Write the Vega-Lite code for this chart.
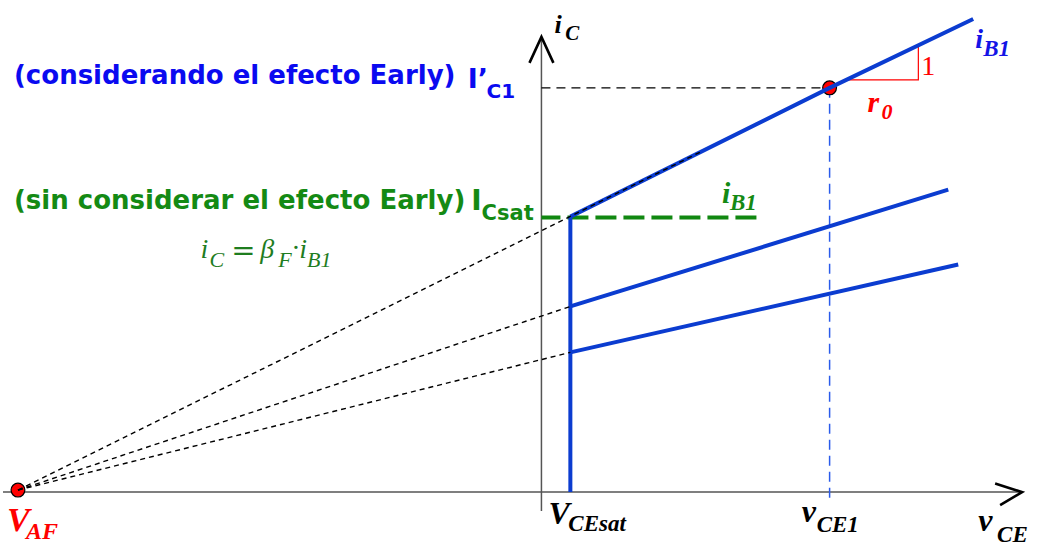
{
  "$schema": "https://vega.github.io/schema/vega-lite/v6.json",
  "width": 1039,
  "height": 547,
  "autosize": {"type": "fit", "contains": "padding"},
  "padding": 0,
  "background": "white",
  "config": {"view": {"stroke": null}},
  "encoding": {
    "x": {"field": "x", "type": "quantitative", "scale": {"domain": [-54, 49.9], "nice": false, "zero": false}, "axis": null},
    "y": {"field": "y", "type": "quantitative", "scale": {"domain": [-5.4, 49.3], "nice": false, "zero": false}, "axis": null}
  },
  "layer": [
    {
      "description": "v_CE and i_C axes",
      "data": {"values": [
        {"s": "x", "k": 0, "x": -54, "y": 0}, {"s": "x", "k": 1, "x": 48.0, "y": 0},
        {"s": "y", "k": 0, "x": 0, "y": -1.9}, {"s": "y", "k": 1, "x": 0, "y": 45.4}
      ]},
      "mark": {"type": "line", "color": "#555555", "strokeWidth": 1.5},
      "encoding": {"detail": {"field": "s"}, "order": {"field": "k"}}
    },
    {
      "description": "axis arrowheads",
      "data": {"values": [
        {"s": "x", "k": 0, "x": 45.5, "y": 0.85}, {"s": "x", "k": 1, "x": 48.2, "y": 0}, {"s": "x", "k": 2, "x": 46.0, "y": -1.3},
        {"s": "y", "k": 0, "x": -1.2, "y": 43.0}, {"s": "y", "k": 1, "x": 0, "y": 45.6}, {"s": "y", "k": 2, "x": 1.2, "y": 43.0}
      ]},
      "mark": {"type": "line", "color": "#000000", "strokeWidth": 2.6, "strokeJoin": "miter"},
      "encoding": {"detail": {"field": "s"}, "order": {"field": "k"}}
    },
    {
      "description": "operating point I'C1 projections",
      "data": {"values": [
        {"s": "h", "k": 0, "x": 0, "y": 40.5}, {"s": "h", "k": 1, "x": 28.9, "y": 40.5}
      ]},
      "mark": {"type": "line", "color": "#000000", "strokeWidth": 1.3, "strokeDash": [9, 6]},
      "encoding": {"detail": {"field": "s"}, "order": {"field": "k"}}
    },
    {
      "data": {"values": [
        {"s": "v", "k": 0, "x": 28.9, "y": 40.5}, {"s": "v", "k": 1, "x": 28.9, "y": -1.0}
      ]},
      "mark": {"type": "line", "color": "#2a5bea", "strokeWidth": 1.5, "strokeDash": [10, 6]},
      "encoding": {"detail": {"field": "s"}, "order": {"field": "k"}}
    },
    {
      "description": "I_Csat level without the Early effect",
      "data": {"values": [
        {"s": "g", "k": 0, "x": 0, "y": 27.5}, {"s": "g", "k": 1, "x": 21.8, "y": 27.5}
      ]},
      "mark": {"type": "line", "color": "#118811", "strokeWidth": 4, "strokeDash": [21, 7], "strokeDashOffset": 2},
      "encoding": {"detail": {"field": "s"}, "order": {"field": "k"}}
    },
    {
      "description": "slope triangle for r0",
      "data": {"values": [
        {"s": "t", "k": 0, "x": 30.6, "y": 41.3}, {"s": "t", "k": 1, "x": 37.8, "y": 41.3}, {"s": "t", "k": 2, "x": 37.8, "y": 44.6}
      ]},
      "mark": {"type": "line", "color": "#ff0000", "strokeWidth": 1.2, "strokeJoin": "miter"},
      "encoding": {"detail": {"field": "s"}, "order": {"field": "k"}}
    },
    {
      "description": "V_AF and the operating point",
      "data": {"values": [
        {"x": -52.5, "y": 0.2}, {"x": 28.9, "y": 40.5}
      ]},
      "mark": {"type": "point", "shape": "circle", "filled": true, "size": 190, "color": "#ff0000", "stroke": "#000000", "strokeWidth": 1.2, "opacity": 1}
    },
    {
      "description": "output characteristics i_C(v_CE)",
      "data": {"values": [
        {"s": "top", "k": 0, "x": 2.9, "y": 27.6}, {"s": "top", "k": 1, "x": 28.9, "y": 40.5}, {"s": "top", "k": 2, "x": 43.3, "y": 47.4},
        {"s": "mid", "k": 0, "x": 2.9, "y": 18.6}, {"s": "mid", "k": 1, "x": 40.8, "y": 30.3},
        {"s": "low", "k": 0, "x": 2.9, "y": 14.0}, {"s": "low", "k": 1, "x": 41.8, "y": 22.8},
        {"s": "sat", "k": 0, "x": 2.9, "y": 0}, {"s": "sat", "k": 1, "x": 2.9, "y": 27.6}
      ]},
      "mark": {"type": "line", "color": "#0b3cd0", "strokeWidth": 4, "strokeCap": "butt"},
      "encoding": {"detail": {"field": "s"}, "order": {"field": "k"}}
    },
    {
      "description": "extrapolation to the Early voltage",
      "data": {"values": [
        {"s": "a", "k": 0, "x": -52.5, "y": 0.2}, {"s": "a", "k": 1, "x": 16.0, "y": 34.1},
        {"s": "b", "k": 0, "x": -52.5, "y": 0.2}, {"s": "b", "k": 1, "x": 2.9, "y": 18.6},
        {"s": "c", "k": 0, "x": -52.5, "y": 0.2}, {"s": "c", "k": 1, "x": 2.9, "y": 14.0}
      ]},
      "mark": {"type": "line", "color": "#000000", "strokeWidth": 1.4, "strokeDash": [5, 4]},
      "encoding": {"detail": {"field": "s"}, "order": {"field": "k"}}
    },
    {
      "data": {"values": [{"x": -52.9, "y": 40.9, "t": "(considerando el efecto Early)"}]},
      "mark": {"type": "text", "align": "left", "baseline": "alphabetic", "font": "DejaVu Sans", "fontWeight": "bold", "fontSize": 26, "color": "#0a0af0"},
      "encoding": {"text": {"field": "t"}}
    },
    {
      "data": {"values": [{"x": -7.4, "y": 40.5, "t": "I’"}]},
      "mark": {"type": "text", "align": "left", "baseline": "alphabetic", "font": "DejaVu Sans", "fontWeight": "bold", "fontSize": 27, "color": "#0a0af0"},
      "encoding": {"text": {"field": "t"}}
    },
    {
      "data": {"values": [{"x": -5.5, "y": 39.5, "t": "C1"}]},
      "mark": {"type": "text", "align": "left", "baseline": "alphabetic", "font": "DejaVu Sans", "fontWeight": "bold", "fontSize": 20, "color": "#0a0af0"},
      "encoding": {"text": {"field": "t"}}
    },
    {
      "data": {"values": [{"x": -52.9, "y": 28.4, "t": "(sin considerar el efecto Early)"}]},
      "mark": {"type": "text", "align": "left", "baseline": "alphabetic", "font": "DejaVu Sans", "fontWeight": "bold", "fontSize": 26, "color": "#148a14"},
      "encoding": {"text": {"field": "t"}}
    },
    {
      "data": {"values": [{"x": -7.05, "y": 28.3, "t": "I"}]},
      "mark": {"type": "text", "align": "left", "baseline": "alphabetic", "font": "DejaVu Sans", "fontWeight": "bold", "fontSize": 28, "color": "#148a14"},
      "encoding": {"text": {"field": "t"}}
    },
    {
      "data": {"values": [{"x": -6.0, "y": 27.3, "t": "Csat"}]},
      "mark": {"type": "text", "align": "left", "baseline": "alphabetic", "font": "DejaVu Sans", "fontWeight": "bold", "fontSize": 21, "color": "#148a14"},
      "encoding": {"text": {"field": "t"}}
    },
    {
      "description": "i_C = beta_F * i_B1",
      "data": {"values": [{"x": -34.2, "y": 23.5, "t": "i"}, {"x": -28.2, "y": 23.5, "t": "β"}, {"x": -24.3, "y": 23.5, "t": "i"}]},
      "mark": {"type": "text", "align": "left", "baseline": "alphabetic", "font": "Liberation Serif", "fontStyle": "italic", "fontSize": 28, "color": "#1f7d1f"},
      "encoding": {"text": {"field": "t"}}
    },
    {
      "data": {"values": [{"x": -33.3, "y": 22.6, "t": "C"}, {"x": -26.4, "y": 22.6, "t": "F"}, {"x": -23.5, "y": 22.6, "t": "B1"}]},
      "mark": {"type": "text", "align": "left", "baseline": "alphabetic", "font": "Liberation Serif", "fontStyle": "italic", "fontSize": 22, "color": "#1f7d1f"},
      "encoding": {"text": {"field": "t"}}
    },
    {
      "data": {"values": [{"x": -31.1, "y": 23.3, "t": "="}]},
      "mark": {"type": "text", "align": "left", "baseline": "alphabetic", "font": "DejaVu Sans", "fontSize": 29, "color": "#1f7d1f"},
      "encoding": {"text": {"field": "t"}}
    },
    {
      "data": {"values": [{"x": -25.1, "y": 23.6, "t": "·"}]},
      "mark": {"type": "text", "align": "left", "baseline": "alphabetic", "font": "Liberation Serif", "fontSize": 28, "color": "#1f7d1f"},
      "encoding": {"text": {"field": "t"}}
    },
    {
      "description": "axis names",
      "data": {"values": [{"x": 1.3, "y": 46.0, "t": "i"}]},
      "mark": {"type": "text", "align": "left", "baseline": "alphabetic", "font": "Liberation Serif", "fontStyle": "italic", "fontWeight": "bold", "fontSize": 26, "color": "#000000"},
      "encoding": {"text": {"field": "t"}}
    },
    {
      "data": {"values": [{"x": 2.4, "y": 45.3, "t": "C"}]},
      "mark": {"type": "text", "align": "left", "baseline": "alphabetic", "font": "Liberation Serif", "fontStyle": "italic", "fontWeight": "bold", "fontSize": 21, "color": "#000000"},
      "encoding": {"text": {"field": "t"}}
    },
    {
      "data": {"values": [{"x": 0.7, "y": -3.2, "t": "V"}, {"x": 26.1, "y": -3.0, "t": "v"}, {"x": 43.8, "y": -3.9, "t": "v"}]},
      "mark": {"type": "text", "align": "left", "baseline": "alphabetic", "font": "Liberation Serif", "fontStyle": "italic", "fontWeight": "bold", "fontSize": 32, "color": "#000000"},
      "encoding": {"text": {"field": "t"}}
    },
    {
      "data": {"values": [{"x": 2.7, "y": -3.9, "t": "CEsat"}, {"x": 27.6, "y": -4.0, "t": "CE1"}, {"x": 45.7, "y": -5.0, "t": "CE"}]},
      "mark": {"type": "text", "align": "left", "baseline": "alphabetic", "font": "Liberation Serif", "fontStyle": "italic", "fontWeight": "bold", "fontSize": 23, "color": "#000000"},
      "encoding": {"text": {"field": "t"}}
    },
    {
      "data": {"values": [{"x": -53.6, "y": -3.9, "t": "V"}]},
      "mark": {"type": "text", "align": "left", "baseline": "alphabetic", "font": "Liberation Serif", "fontStyle": "italic", "fontWeight": "bold", "fontSize": 34, "color": "#ff0000"},
      "encoding": {"text": {"field": "t"}}
    },
    {
      "data": {"values": [{"x": -51.7, "y": -4.7, "t": "AF"}]},
      "mark": {"type": "text", "align": "left", "baseline": "alphabetic", "font": "Liberation Serif", "fontStyle": "italic", "fontWeight": "bold", "fontSize": 24, "color": "#ff0000"},
      "encoding": {"text": {"field": "t"}}
    },
    {
      "data": {"values": [{"x": 32.7, "y": 38.1, "t": "r"}]},
      "mark": {"type": "text", "align": "left", "baseline": "alphabetic", "font": "Liberation Serif", "fontStyle": "italic", "fontWeight": "bold", "fontSize": 30, "color": "#ff0000"},
      "encoding": {"text": {"field": "t"}}
    },
    {
      "data": {"values": [{"x": 34.1, "y": 37.4, "t": "0"}]},
      "mark": {"type": "text", "align": "left", "baseline": "alphabetic", "font": "Liberation Serif", "fontStyle": "italic", "fontWeight": "bold", "fontSize": 22, "color": "#ff0000"},
      "encoding": {"text": {"field": "t"}}
    },
    {
      "data": {"values": [{"x": 38.1, "y": 41.8, "t": "1"}]},
      "mark": {"type": "text", "align": "left", "baseline": "alphabetic", "font": "Liberation Serif", "fontSize": 28, "color": "#ff0000"},
      "encoding": {"text": {"field": "t"}}
    },
    {
      "description": "base current labels",
      "data": {"values": [{"x": 43.5, "y": 44.5, "t": "i"}]},
      "mark": {"type": "text", "align": "left", "baseline": "alphabetic", "font": "Liberation Serif", "fontStyle": "italic", "fontWeight": "bold", "fontSize": 28, "color": "#1414e6"},
      "encoding": {"text": {"field": "t"}}
    },
    {
      "data": {"values": [{"x": 44.3, "y": 43.7, "t": "B1"}]},
      "mark": {"type": "text", "align": "left", "baseline": "alphabetic", "font": "Liberation Serif", "fontStyle": "italic", "fontWeight": "bold", "fontSize": 23, "color": "#1414e6"},
      "encoding": {"text": {"field": "t"}}
    },
    {
      "data": {"values": [{"x": 18.1, "y": 29.0, "t": "i"}]},
      "mark": {"type": "text", "align": "left", "baseline": "alphabetic", "font": "Liberation Serif", "fontStyle": "italic", "fontWeight": "bold", "fontSize": 30, "color": "#148a14"},
      "encoding": {"text": {"field": "t"}}
    },
    {
      "data": {"values": [{"x": 18.9, "y": 28.3, "t": "B1"}]},
      "mark": {"type": "text", "align": "left", "baseline": "alphabetic", "font": "Liberation Serif", "fontStyle": "italic", "fontWeight": "bold", "fontSize": 23, "color": "#148a14"},
      "encoding": {"text": {"field": "t"}}
    }
  ]
}
